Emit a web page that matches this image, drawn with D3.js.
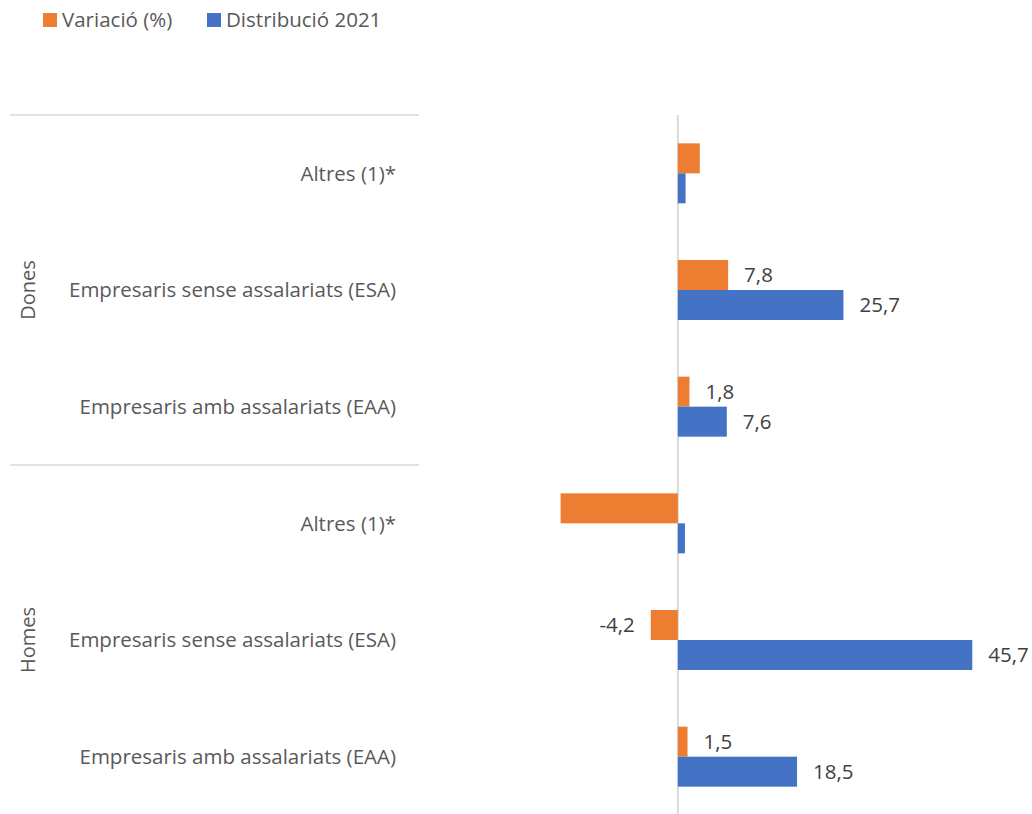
<!DOCTYPE html>
<html>
<head>
<meta charset="utf-8">
<script src="https://cdn.jsdelivr.net/npm/d3@7"></script>
<style>
  body { margin: 0; background: #fff; }
  text { font-family: "Open Sans", sans-serif; }
</style>
</head>
<body>
<script>
// data
var groups = ["Dones", "Homes"];
var categories = ["Altres (1)*", "Empresaris sense assalariats (ESA)", "Empresaris amb assalariats (EAA)"];
var showLabel = [false, true, true];
var variacio = [[3.4, 7.8, 1.8], [-18.2, -4.2, 1.5]];
var distribucio = [[1.2, 25.7, 7.6], [1.1, 45.7, 18.5]];
var seriesNames = ["Variació (%)", "Distribució 2021"];
var seriesColors = ["#ed7d31", "#4472c4"];

var width = 1032;
var height = 814;

var svg = d3.select("body")
            .append("svg")
            .attr("width", width)
            .attr("height", height);

// flatten rows
var rows = [];
groups.forEach(function(g, gi) {
  categories.forEach(function(c, ci) {
    rows.push({ key: g + "|" + c, group: g, cat: c, ci: ci,
                values: [variacio[gi][ci], distribucio[gi][ci]] });
  });
});

var x = d3.scaleLinear().domain([-20, 50]).range([549, 1000]);
var y = d3.scaleBand().domain(rows.map(function(d) { return d.key; })).range([115, 815]);
var ySub = d3.scaleBand().domain([0, 1]).range([-30, 30]);

var fmt = d3.formatLocale({ decimal: ",", thousands: ".", grouping: [3], currency: ["", "€"], minus: "-" }).format(".1f");

// group separators
var groupStarts = [115, 465];
svg.selectAll("line.sep")
   .data(groupStarts)
   .enter().append("line")
   .attr("class", "sep")
   .attr("x1", 10).attr("x2", 419)
   .attr("y1", function(d) { return d; })
   .attr("y2", function(d) { return d; })
   .attr("stroke", "#d9d9d9")
   .attr("stroke-width", 1.5);

// zero axis line
svg.append("line")
   .attr("x1", x(0)).attr("x2", x(0))
   .attr("y1", 115).attr("y2", 815)
   .attr("stroke", "#d9d9d9")
   .attr("stroke-width", 2);

// bars
var rowG = svg.selectAll("g.row")
              .data(rows)
              .enter().append("g")
              .attr("class", "row")
              .attr("transform", function(d) { return "translate(0," + (y(d.key) + y.bandwidth() / 2) + ")"; });

rowG.selectAll("rect")
    .data(function(d) { return d.values.map(function(v, i) { return { v: v, i: i, ci: d.ci }; }); })
    .enter().append("rect")
    .attr("x", function(d) { return Math.min(x(0), x(d.v)); })
    .attr("y", function(d) { return ySub(d.i); })
    .attr("width", function(d) { return Math.abs(x(d.v) - x(0)); })
    .attr("height", ySub.bandwidth())
    .attr("fill", function(d) { return seriesColors[d.i]; });

// value labels
rowG.selectAll("text.val")
    .data(function(d) { return showLabel[d.ci] ? d.values.map(function(v, i) { return { v: v, i: i }; }) : []; })
    .enter().append("text")
    .attr("class", "val")
    .attr("x", function(d) { return d.v < 0 ? x(d.v) - 16 : x(d.v) + 16; })
    .attr("y", function(d) { return ySub(d.i) + ySub.bandwidth() / 2; })
    .attr("dy", "0.35em")
    .attr("text-anchor", function(d) { return d.v < 0 ? "end" : "start"; })
    .attr("font-size", "20.5px")
    .attr("fill", "#404040")
    .text(function(d) { return fmt(d.v); });

// category labels
rowG.append("text")
    .attr("x", 396)
    .attr("dy", "0.35em")
    .attr("text-anchor", "end")
    .attr("font-size", "20.5px")
    .attr("fill", "#595959")
    .text(function(d) { return d.cat; });

// group labels
svg.selectAll("text.grp")
   .data(groups)
   .enter().append("text")
   .attr("class", "grp")
   .attr("transform", function(d, i) { return "translate(28," + (groupStarts[i] + 175) + ") rotate(-90)"; })
   .attr("dy", "0.35em")
   .attr("text-anchor", "middle")
   .attr("font-size", "20px")
   .attr("fill", "#595959")
   .text(function(d) { return d; });

// legend
var legendX = [43, 207];
var leg = svg.selectAll("g.legend")
             .data(seriesNames)
             .enter().append("g")
             .attr("class", "legend")
             .attr("transform", function(d, i) { return "translate(" + legendX[i] + ",13)"; });

leg.append("rect")
   .attr("width", 14).attr("height", 14)
   .attr("fill", function(d, i) { return seriesColors[i]; });

leg.append("text")
   .attr("x", 19)
   .attr("y", 7)
   .attr("dy", "0.35em")
   .attr("font-size", "20.5px")
   .attr("fill", "#595959")
   .text(function(d) { return d; });
</script>
</body>
</html>
